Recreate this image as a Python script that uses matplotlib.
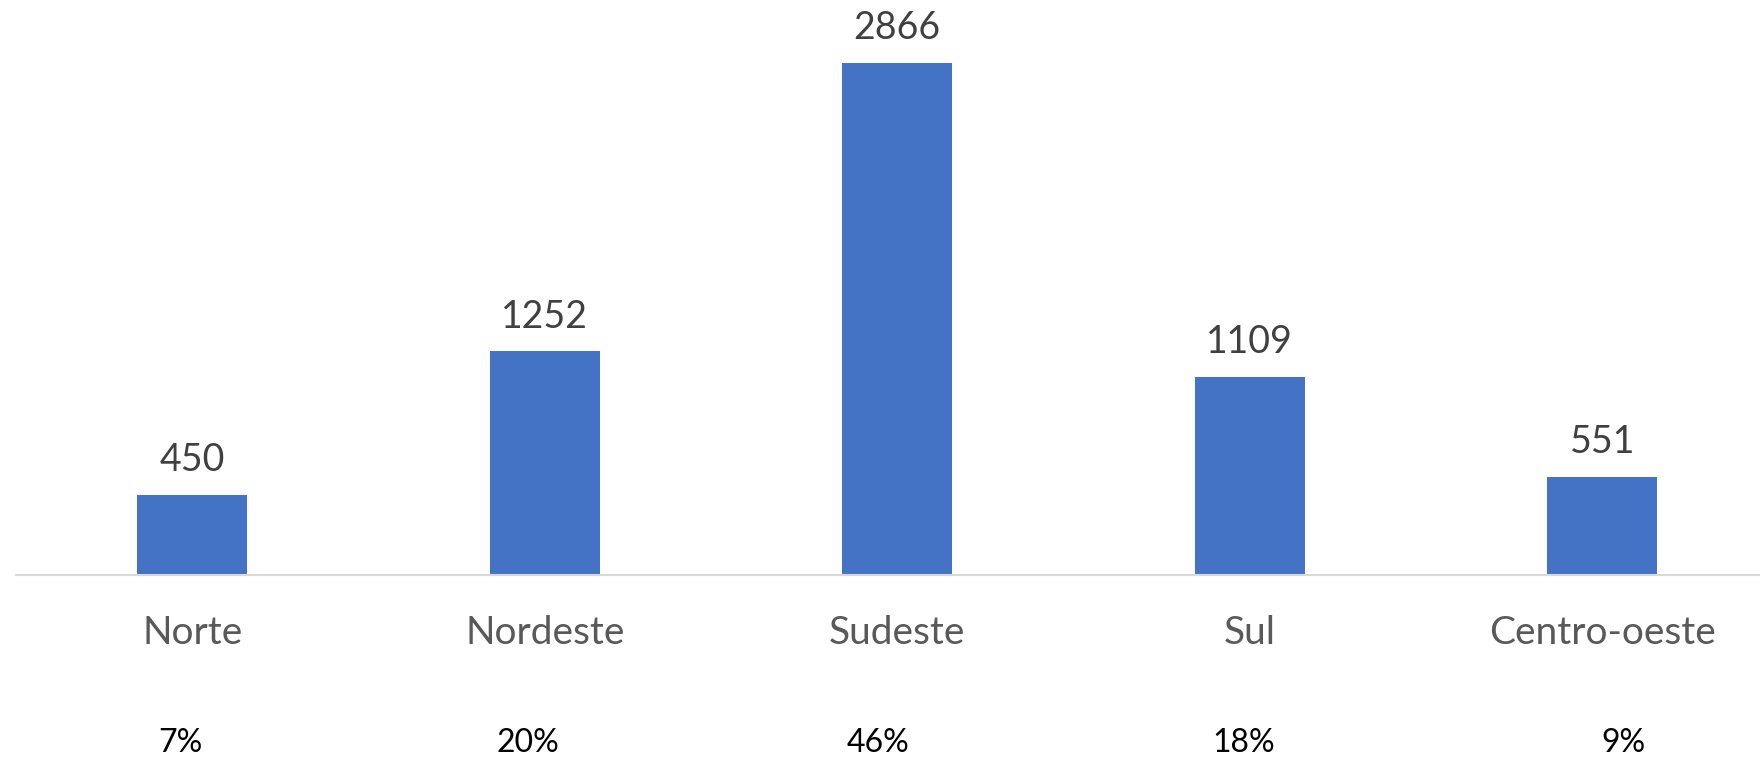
import matplotlib
matplotlib.use('Agg')
import matplotlib.pyplot as plt

regioes = ['Norte', 'Nordeste', 'Sudeste', 'Sul', 'Centro-oeste']
valores = [450, 1252, 2866, 1109, 551]
percentuais = ['7%', '20%', '46%', '18%', '9%']
# deslocamento horizontal das caixas de texto dos percentuais
desloc_pct = [-0.034, -0.048, -0.054, -0.017, 0.06]

plt.rcParams['font.family'] = ['Lato', 'DejaVu Sans']

fig = plt.figure(figsize=(17.6, 7.61), dpi=100)
ax = fig.add_axes([16 / 1760, 186 / 761, 5 * 352.5 / 1760, 575 / 761])

x = list(range(len(regioes)))
ax.bar(x, valores, width=0.312, color='#4472C4')

for xi, v in zip(x, valores):
    ax.annotate(str(v), (xi, v), xytext=(0, 12), textcoords='offset points',
                ha='center', va='bottom', fontsize=27, color='#404040')

ax.set_xlim(-0.5, len(regioes) - 0.5)
ax.set_ylim(0, 2866 * 575 / 512)

for s in ['top', 'right', 'left']:
    ax.spines[s].set_visible(False)
ax.spines['bottom'].set_color('#D9D9D9')
ax.spines['bottom'].set_linewidth(1.5)
ax.set_yticks([])
ax.set_xticks(x)
ax.set_xticklabels(regioes, fontsize=28, color='#595959')
ax.tick_params(axis='x', length=0, pad=29)

for xi, p, d in zip(x, percentuais, desloc_pct):
    ax.text(xi + d, -0.292, p, transform=ax.get_xaxis_transform(),
            ha='center', va='center', fontsize=23, color='black')

fig.savefig('out.png', dpi=100)
